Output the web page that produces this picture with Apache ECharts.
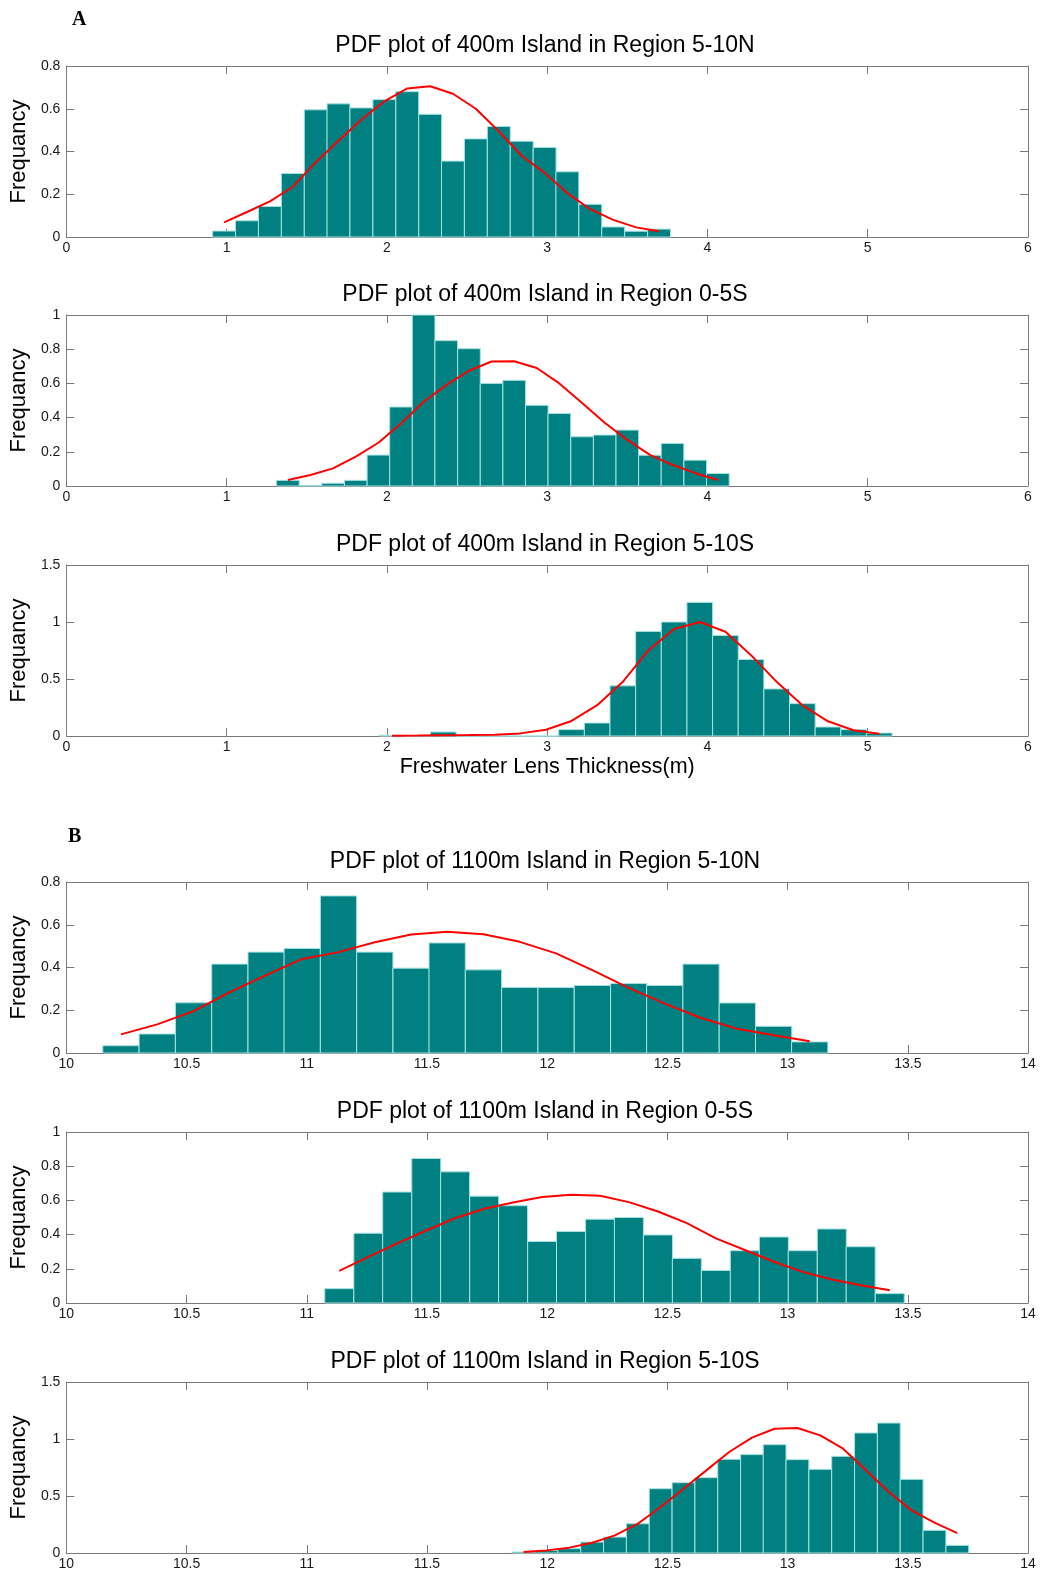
<!DOCTYPE html>
<html>
<head>
<meta charset="utf-8">
<title>PDF plots of freshwater lens thickness</title>
<script src="https://cdn.jsdelivr.net/npm/echarts@6/dist/echarts.min.js"></script>
<style>
  html, body { margin: 0; padding: 0; background: #fff; }
  #main { width: 1040px; height: 1576px; }
</style>
</head>
<body>
<div id="main"></div>
<script>
// 标题
var titles = [
    'PDF plot of 400m Island in Region 5-10N',
    'PDF plot of 400m Island in Region 0-5S',
    'PDF plot of 400m Island in Region 5-10S',
    'PDF plot of 1100m Island in Region 5-10N',
    'PDF plot of 1100m Island in Region 0-5S',
    'PDF plot of 1100m Island in Region 5-10S'
];

// 400m, 5-10N
var center400N = [0.984, 1.127, 1.270, 1.413, 1.556, 1.698, 1.841, 1.984, 2.127, 2.270, 2.412, 2.555, 2.698, 2.841, 2.984, 3.126, 3.269, 3.412, 3.555, 3.698];
var freq400N   = [0.028, 0.076, 0.143, 0.297, 0.595, 0.623, 0.604, 0.643, 0.680, 0.574, 0.355, 0.459, 0.517, 0.448, 0.419, 0.305, 0.153, 0.047, 0.027, 0.037];
var fit400N    = [0.068, 0.117, 0.167, 0.235, 0.350, 0.450, 0.550, 0.635, 0.695, 0.705, 0.670, 0.600, 0.495, 0.380, 0.300, 0.205, 0.130, 0.080, 0.045, 0.027];

// 400m, 0-5S
var center400S = [1.382, 1.523, 1.664, 1.806, 1.947, 2.088, 2.229, 2.370, 2.512, 2.653, 2.794, 2.935, 3.076, 3.218, 3.359, 3.500, 3.641, 3.782, 3.924, 4.065];
var freq400S   = [0.033, 0.004, 0.016, 0.033, 0.181, 0.462, 1.000, 0.850, 0.803, 0.600, 0.618, 0.472, 0.424, 0.288, 0.298, 0.327, 0.180, 0.249, 0.151, 0.073];
var fit400S    = [0.035, 0.064, 0.103, 0.172, 0.253, 0.366, 0.493, 0.590, 0.674, 0.728, 0.730, 0.690, 0.600, 0.486, 0.370, 0.270, 0.182, 0.124, 0.075, 0.035];

// 400m, 5-10S
var center400SS = [2.032, 2.192, 2.352, 2.512, 2.672, 2.832, 2.992, 3.152, 3.312, 3.472, 3.632, 3.792, 3.952, 4.112, 4.272, 4.432, 4.592, 4.752, 4.912, 5.072];
var freq400SS   = [0.006, 0, 0.035, 0, 0, 0, 0, 0.056, 0.114, 0.440, 0.917, 1.000, 1.172, 0.882, 0.671, 0.413, 0.284, 0.079, 0.056, 0.026];
var fit400SS    = [0.003, 0.004, 0.006, 0.008, 0.012, 0.023, 0.055, 0.132, 0.270, 0.475, 0.753, 0.938, 1.000, 0.914, 0.709, 0.475, 0.270, 0.129, 0.050, 0.020];

// 1100m, 5-10N
var center1100N = [10.227, 10.378, 10.529, 10.680, 10.831, 10.981, 11.132, 11.283, 11.434, 11.584, 11.735, 11.886, 12.037, 12.188, 12.339, 12.489, 12.640, 12.791, 12.942, 13.092];
var freq1100N   = [0.034, 0.089, 0.235, 0.416, 0.472, 0.489, 0.735, 0.472, 0.397, 0.515, 0.389, 0.307, 0.306, 0.316, 0.325, 0.316, 0.416, 0.234, 0.125, 0.052];
var fit1100N    = [0.087, 0.134, 0.196, 0.285, 0.364, 0.440, 0.472, 0.518, 0.554, 0.567, 0.556, 0.520, 0.466, 0.388, 0.305, 0.231, 0.164, 0.113, 0.083, 0.055];

// 1100m, 0-5S
var center1100S = [11.135, 11.256, 11.376, 11.497, 11.617, 11.738, 11.858, 11.979, 12.099, 12.220, 12.340, 12.461, 12.581, 12.702, 12.822, 12.943, 13.063, 13.184, 13.304, 13.425];
var freq1100S   = [0.084, 0.408, 0.649, 0.845, 0.767, 0.625, 0.569, 0.360, 0.418, 0.490, 0.500, 0.398, 0.261, 0.190, 0.306, 0.386, 0.306, 0.433, 0.329, 0.055];
var fit1100S    = [0.188, 0.270, 0.349, 0.424, 0.496, 0.551, 0.588, 0.620, 0.633, 0.627, 0.590, 0.535, 0.467, 0.378, 0.310, 0.241, 0.182, 0.137, 0.104, 0.075];

// 1100m, 5-10S
var center1100SS = [11.902, 11.997, 12.092, 12.187, 12.282, 12.377, 12.472, 12.567, 12.662, 12.757, 12.852, 12.946, 13.041, 13.136, 13.231, 13.326, 13.421, 13.516, 13.611, 13.706];
var freq1100SS   = [0.009, 0.023, 0.038, 0.096, 0.140, 0.257, 0.564, 0.617, 0.661, 0.822, 0.863, 0.950, 0.819, 0.734, 0.848, 1.053, 1.140, 0.646, 0.199, 0.067];
var fit1100SS    = [0.009, 0.023, 0.047, 0.090, 0.155, 0.257, 0.404, 0.564, 0.725, 0.886, 1.012, 1.090, 1.096, 1.032, 0.915, 0.725, 0.535, 0.374, 0.266, 0.175];

// 每个子图的箱宽
var binWidths = [0.1428, 0.1412, 0.16, 0.1508, 0.1205, 0.0949];

document.addEventListener('DOMContentLoaded', function () {
    var chart = echarts.init(document.getElementById('main'), null, { renderer: 'canvas' });

    var FONT = '"Liberation Sans", Arial, Helvetica, sans-serif';
    var AXIS = '#7a7a7a';
    var TEAL = '#008080';

    // 子图布局（位置、坐标范围）
    var panels = [
        { c: center400N,   h: freq400N,   f: fit400N,   top: 66,   x: [0, 6, 1],    y: [0.8, 0.2] },
        { c: center400S,   h: freq400S,   f: fit400S,   top: 315,  x: [0, 6, 1],    y: [1, 0.2] },
        { c: center400SS,  h: freq400SS,  f: fit400SS,  top: 565,  x: [0, 6, 1],    y: [1.5, 0.5] },
        { c: center1100N,  h: freq1100N,  f: fit1100N,  top: 882,  x: [10, 14, 0.5], y: [0.8, 0.2] },
        { c: center1100S,  h: freq1100S,  f: fit1100S,  top: 1132, x: [10, 14, 0.5], y: [1, 0.2] },
        { c: center1100SS, h: freq1100SS, f: fit1100SS, top: 1382, x: [10, 14, 0.5], y: [1.5, 0.5] }
    ];

    var grids = [], xAxes = [], yAxes = [], series = [], graphics = [];

    function axisBase() {
        return {
            type: 'value',
            axisLine: { show: true, onZero: false, lineStyle: { color: AXIS, width: 1 } },
            axisTick: { show: true, inside: true, length: 8, lineStyle: { color: AXIS } },
            splitLine: { show: false }
        };
    }

    panels.forEach(function (p, i) {
        var w = binWidths[i];
        grids.push({ left: 62, width: 966, top: p.top, height: 171, show: false });

        // 下、上 x 轴
        var xb = axisBase();
        xb.gridIndex = i; xb.position = 'bottom';
        xb.min = p.x[0]; xb.max = p.x[1]; xb.interval = p.x[2];
        xb.axisLabel = { margin: 4, color: '#1a1a1a', fontSize: 14, fontFamily: FONT, showMinLabel: true, showMaxLabel: true };
        if (i === 2) {
            xb.name = 'Freshwater Lens Thickness(m)';
            xb.nameLocation = 'middle';
            xb.nameGap = 20;
            xb.nameTextStyle = { fontSize: 21.5, fontFamily: FONT, color: '#000', verticalAlign: 'top' };
        }
        xAxes.push(xb);
        var xt = axisBase();
        xt.gridIndex = i; xt.position = 'top';
        xt.min = p.x[0]; xt.max = p.x[1]; xt.interval = p.x[2];
        xt.axisLabel = { show: false };
        xAxes.push(xt);

        // 左、右 y 轴
        var yl = axisBase();
        yl.gridIndex = i; yl.position = 'left';
        yl.min = 0; yl.max = p.y[0]; yl.interval = p.y[1];
        yl.name = 'Frequancy';
        yl.nameLocation = 'middle';
        yl.nameGap = 32;
        yl.nameTextStyle = { fontSize: 22, fontFamily: FONT, color: '#000' };
        yl.axisLabel = { margin: 6, color: '#1a1a1a', fontSize: 14, fontFamily: FONT };
        yAxes.push(yl);
        var yr = axisBase();
        yr.gridIndex = i; yr.position = 'right';
        yr.min = 0; yr.max = p.y[0]; yr.interval = p.y[1];
        yr.axisLabel = { show: false };
        yAxes.push(yr);

        // 直方图
        series.push({
            type: 'custom',
            xAxisIndex: 2 * i,
            yAxisIndex: 2 * i,
            encode: { x: 0, y: 1 },
            data: p.c.map(function (x, k) { return [x, p.h[k]]; }),
            renderItem: function (params, api) {
                var c = api.value(0), h = api.value(1);
                var a = api.coord([c - w / 2, h]);
                var b = api.coord([c + w / 2, 0]);
                return {
                    type: 'rect',
                    shape: { x: a[0], y: a[1], width: b[0] - a[0], height: b[1] - a[1] },
                    style: { fill: TEAL, stroke: '#a6e2e2', lineWidth: 1 }
                };
            },
            silent: true
        });

        // 拟合曲线
        series.push({
            type: 'line',
            xAxisIndex: 2 * i,
            yAxisIndex: 2 * i,
            data: p.c.map(function (x, k) { return [x, p.f[k]]; }),
            showSymbol: false,
            lineStyle: { color: '#ff0000', width: 2 },
            z: 3,
            silent: true
        });

        graphics.push({
            type: 'text', x: 545, y: p.top - 20.5,
            style: { text: titles[i], font: '23px ' + FONT, fill: '#000', align: 'center', verticalAlign: 'middle' }
        });
    });

    graphics.push({
        type: 'text', x: 72, y: 20,
        style: { text: 'A', font: 'bold 20px "Liberation Serif", "Times New Roman", serif', fill: '#000', align: 'left', verticalAlign: 'middle' }
    });
    graphics.push({
        type: 'text', x: 68, y: 837,
        style: { text: 'B', font: 'bold 20px "Liberation Serif", "Times New Roman", serif', fill: '#000', align: 'left', verticalAlign: 'middle' }
    });

    chart.setOption({
        animation: false,
        backgroundColor: '#fff',
        grid: grids,
        xAxis: xAxes,
        yAxis: yAxes,
        series: series,
        graphic: graphics
    });

    window.addEventListener('resize', function () { chart.resize(); });
});
</script>
</body>
</html>
